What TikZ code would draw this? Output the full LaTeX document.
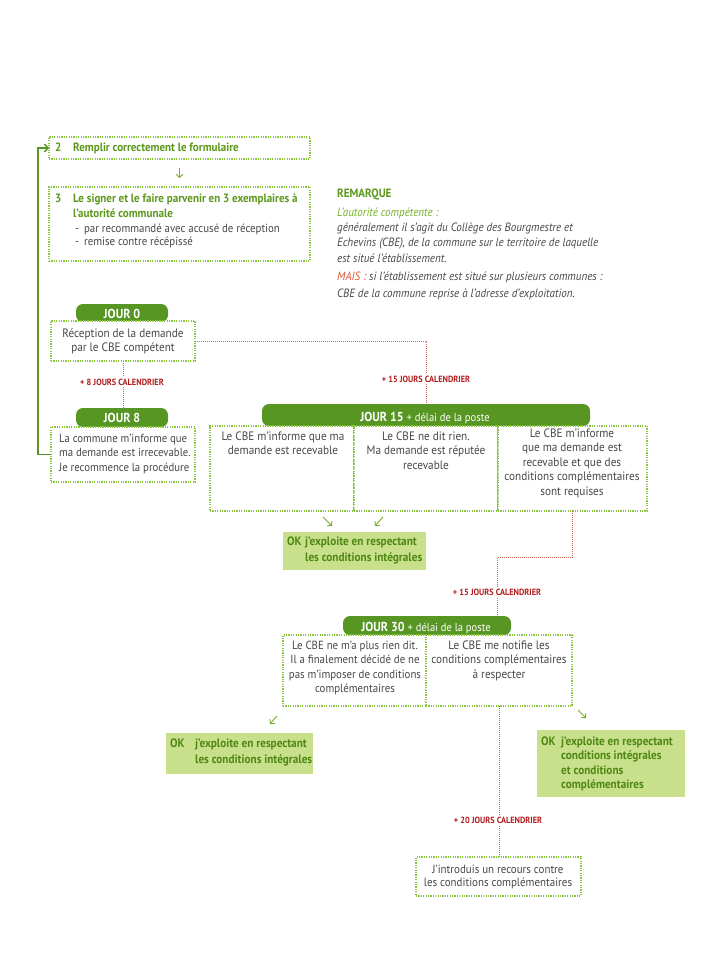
\documentclass[tikz,border=0pt]{standalone}
\usepackage{fontspec}
\setmainfont{PT Sans}[FakeStretch=0.92]
\usetikzlibrary{arrows.meta,backgrounds,calc}
\definecolor{tabgreen}{RGB}{88,150,36}
\definecolor{ttlgreen}{RGB}{92,152,28}
\definecolor{dotgreen}{RGB}{140,198,63}
\definecolor{okfill}{RGB}{200,224,140}
\definecolor{oktext}{RGB}{78,135,18}
\definecolor{ligreen}{RGB}{118,178,38}
\definecolor{txtgrey}{RGB}{72,72,72}
\definecolor{lblred}{RGB}{178,28,28}
\definecolor{linered}{RGB}{214,104,84}
\definecolor{maisred}{RGB}{228,84,52}
\newcommand\mybody{\fontsize{12.2}{14.5}\selectfont}
\newcommand\mytitle{\fontsize{12}{15}\selectfont\bfseries}
\newcommand\myremark{\fontsize{12}{15.5}\selectfont\itshape}
\newcommand\mytab{\fontsize{13}{14}\selectfont\bfseries}
\newcommand\myok{\fontsize{12.2}{16}\selectfont\bfseries}
\newcommand\mylbl{\fontsize{9}{10}\selectfont\bfseries}
\begin{document}
\begin{tikzpicture}[x=1pt,y=-1pt,
  dotbox/.style={draw=dotgreen, line width=1.2pt, dash pattern=on 1.2pt off 1.2pt, fill=white, inner sep=0pt, outer sep=0pt, anchor=north west},
  tabbox/.style={fill=tabgreen, rounded corners=7pt, inner sep=0pt, outer sep=0pt, anchor=north west},
  okbox/.style={fill=okfill, inner sep=0pt, outer sep=0pt, anchor=north west},
  txt/.style={inner sep=0pt, anchor=base, align=center, text=txtgrey, font=\mybody},
  ltxt/.style={txt, anchor=base west, align=left},
  ttl/.style={inner sep=0pt, anchor=base west, align=left, text=ttlgreen, font=\mytitle},
  rmk/.style={inner sep=0pt, anchor=base west, text=txtgrey, font=\myremark},
  tabtxt/.style={inner sep=0pt, anchor=base, text=white, font=\mytab},
  oktxt/.style={inner sep=0pt, anchor=base west, align=left, text=oktext, font=\myok},
  redlbl/.style={fill=white, inner sep=2pt, anchor=base, text=lblred, font=\mylbl},
  redline/.style={draw=linered, line width=1pt, dash pattern=on 1pt off 1pt},
  fbline/.style={draw=tabgreen, line width=1.5pt, -{Straight Barb[length=3.5pt,width=8pt]}},
  sarr/.style={draw=ligreen, line width=0.9pt, -{Straight Barb[length=3pt,width=6.5pt]}}
]
\useasboundingbox (0,0) rectangle (720,960);
\fill[white] (0,0) rectangle (720,960);

% step 2 and 3 (multi-line text nodes are placed at the baseline of their last line)
\node[dotbox, minimum width=261pt, minimum height=22pt] (b2) at (49,137) {};
\node[ttl] (b2t) at (55,152) {\makebox[18pt][l]{2}Remplir correctement le formulaire};
\node[dotbox, minimum width=261pt, minimum height=74pt] (b3) at (49,187) {};
\node[ttl] (b3n) at (55,202) {3};
\node[ttl] (b3t) at (73,217) {Le signer et le faire parvenir en 3 exemplaires à\\l’autorité communale};
\node[ltxt, font=\fontsize{11.8}{13.5}\selectfont] (b3l) at (75,245.5) {-\hspace{5pt}par recommandé avec accusé de réception\\-\hspace{5pt}remise contre récépissé};
\draw[sarr] ([yshift=-9pt]b2.south) -- ([yshift=9pt]b3.north);

% remark
\node[ttl] (rm0) at (337,197) {REMARQUE};
\node[rmk, text=ligreen] (rm1) at (337,216) {L’autorité compétente :};
\node[rmk] (rm2) at (337,231) {généralement il s’agit du Collège des Bourgmestre et};
\node[rmk] (rm3) at (337,246.5) {Echevins (CBE), de la commune sur le territoire de laquelle};
\node[rmk] (rm4) at (337,262) {est situé l’établissement.};
\node[rmk] (rm5) at (337,280) {\textcolor{maisred}{MAIS :} si l’établissement est situé sur plusieurs communes :};
\node[rmk] (rm6) at (337,297) {CBE de la commune reprise à l’adresse d’exploitation.};

% JOUR 0
\node[tabbox, minimum width=92pt, minimum height=18pt] (t0) at (76,304) {};
\node[dotbox, minimum width=144pt, minimum height=40pt] (b0) at (51,321) {};
\node[tabtxt] (t0t) at (122,318.5) {JOUR 0};
\node[txt] (b0t) at (123,351.5) {Réception de la demande\\par le CBE compétent};

% JOUR 8
\node[tabbox, minimum width=92pt, minimum height=19pt] (t8) at (76,408) {};
\node[dotbox, minimum width=144pt, minimum height=55pt] (b8) at (51,427) {};
\node[tabtxt] (t8t) at (122,422.5) {JOUR 8};
\node[ltxt, font=\fontsize{11.7}{14.5}\selectfont] (b8t) at (59,471) {La commune m’informe que\\ma demande est irrecevable.\\Je recommence la procédure};

% JOUR 15
\node[tabbox, minimum width=328pt, minimum height=22pt] (t15) at (262,404) {};
\node[dotbox, minimum width=144pt, minimum height=85pt] (c1) at (210,426) {};
\node[dotbox, minimum width=144pt, minimum height=85pt] (c2) at (354,426) {};
\node[dotbox, minimum width=149pt, minimum height=85pt] (c3) at (498,426) {};
\node[tabtxt] (t15t) at (425,421) {JOUR 15 {\fontsize{11.5}{12}\selectfont\mdseries + délai de la poste}};
\node[txt] (c1t) at (283,454.5) {Le CBE m’informe que ma\\demande est recevable};
\node[txt] (c2t) at (426,469) {Le CBE ne dit rien.\\Ma demande est réputée\\recevable};
\node[txt] (c3t) at (572,495) {Le CBE m’informe\\que ma demande est\\recevable et que des\\conditions complémentaires\\sont requises};

% OK 1
\node[okbox, minimum width=143pt, minimum height=38pt] (ok1) at (283,532) {};
\node[oktxt] (ok1t) at (287,561) {\makebox[18pt][l]{OK}j’exploite en respectant\\\hspace*{18pt}les conditions intégrales};
\coordinate (a1s) at (323,517); \coordinate (a1e) at (332,526);
\coordinate (a2s) at (383,517); \coordinate (a2e) at (375,526);
\draw[sarr] (a1s) -- (a1e);
\draw[sarr] (a2s) -- (a2e);

% JOUR 30
\node[tabbox, minimum width=168pt, minimum height=19pt] (t30) at (343,616) {};
\node[dotbox, minimum width=143pt, minimum height=71pt] (d1) at (283,635) {};
\node[dotbox, minimum width=146pt, minimum height=71pt] (d2) at (426,635) {};
\node[tabtxt] (t30t) at (426,631) {JOUR 30 {\fontsize{11.5}{12}\selectfont\mdseries + délai de la poste}};
\node[txt, font=\fontsize{11.8}{14.5}\selectfont] (d1t) at (355,692.5) {Le CBE ne m’a plus rien dit.\\Il a finalement décidé de ne\\pas m’imposer de conditions\\complémentaires};
\node[txt] (d2t) at (499,678) {Le CBE me notifie les\\conditions complémentaires\\à respecter};

% OK 2 and 3
\node[okbox, minimum width=147pt, minimum height=41pt] (ok2) at (166,733) {};
\node[oktxt] (ok2t) at (170,763) {\makebox[25pt][l]{OK}j’exploite en respectant\\\hspace*{25pt}les conditions intégrales};
\node[okbox, minimum width=148pt, minimum height=67pt] (ok3) at (537,730) {};
\node[oktxt, font=\fontsize{12.2}{14.6}\selectfont\bfseries] (ok3t) at (541,788.8) {\makebox[20pt][l]{OK}j’exploite en respectant\\\hspace*{20pt}conditions intégrales\\\hspace*{20pt}et conditions\\\hspace*{20pt}complémentaires};
\coordinate (a3s) at (277,716); \coordinate (a3e) at (270,724);
\coordinate (a4s) at (578,710); \coordinate (a4e) at (586,718);
\draw[sarr] (a3s) -- (a3e);
\draw[sarr] (a4s) -- (a4e);

% recours
\node[dotbox, minimum width=165pt, minimum height=39pt] (rec) at (416,857) {};
\node[txt, font=\fontsize{11.9}{13.5}\selectfont] (rect) at (498,886.5) {J’introduis un recours contre\\les conditions complémentaires};

% connectors
\coordinate (k1) at (497,557);
\draw[redline] (b0.east) -| (t15.north);
\draw[redline] (b0.south) -- (b0.south |- t8.north);
\draw[redline] (c3.south) |- (k1) -- (k1 |- t30.north);
\draw[redline] (d2.south) -- (d2.south |- rec.north);
\draw[fbline] (b8.west) -- ++(-13,0) |- (b2.west);

% labels
\node[redlbl] (l8) at (122,385) {+ 8 JOURS CALENDRIER};
\node[redlbl] (l15a) at (426,382) {+ 15 JOURS CALENDRIER};
\node[redlbl] (l15b) at (497,595) {+ 15 JOURS CALENDRIER};
\node[redlbl] (l20) at (498,823) {+ 20 JOURS CALENDRIER};

\begin{scope}[on background layer]
\fill[tabgreen] (t0.west) rectangle (t0.south east);
\fill[tabgreen] (t8.west) rectangle (t8.south east);
\fill[tabgreen] (t15.west) rectangle (t15.south east);
\fill[tabgreen] (t30.west) rectangle (t30.south east);
\end{scope}
\end{tikzpicture}
\end{document}
